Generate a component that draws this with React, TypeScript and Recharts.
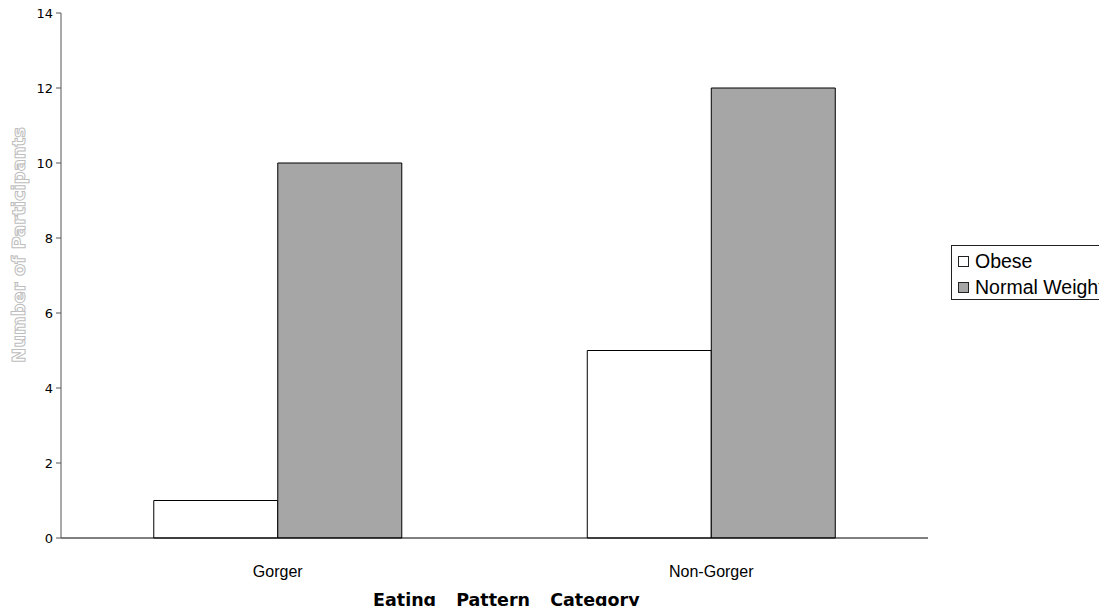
import React from 'react';
import { BarChart, Bar, XAxis, YAxis } from 'recharts';

const categories = ['Gorger', 'Non-Gorger'];
const obese = [1, 5];
const normalWeight = [10, 12];
const yTicks = [0, 2, 4, 6, 8, 10, 12, 14];
const edgeTicks = [0, 1, 2];

const data = categories.map((name, i) => ({
  name,
  obese: obese[i],
  normal: normalWeight[i],
}));

const legendItems = [
  { label: 'Obese', color: '#ffffff' },
  { label: 'Normal Weight', color: '#a6a6a6' },
];

// legend box sits to the right of the plot and runs off the page edge
const LegendBox = () => (
  <div
    style={{
      position: 'absolute',
      left: 951,
      top: 245,
      width: 200,
      height: 55,
      border: '1px solid #222',
      padding: '2px 0 0 6px',
      fontFamily: '"Liberation Sans", Arial, sans-serif',
      fontSize: 19.5,
      lineHeight: '26px',
      color: '#000',
      background: '#fff',
      whiteSpace: 'nowrap',
      boxSizing: 'border-box',
    }}
  >
    {legendItems.map((it) => (
      <div key={it.label} style={{ display: 'flex', alignItems: 'center' }}>
        <span
          style={{
            display: 'inline-block',
            width: 9,
            height: 9,
            border: '1px solid #222',
            background: it.color,
            marginRight: 6,
          }}
        />
        {it.label}
      </div>
    ))}
  </div>
);

const YTitle = () => (
  <text
    x={0}
    y={0}
    transform="translate(25, 245) rotate(-90)"
    textAnchor="middle"
    fontFamily='"DejaVu Sans", Verdana, sans-serif'
    fontWeight="bold"
    fontSize={18}
    fill="#ffffff"
    stroke="#bdbdbd"
    strokeWidth={1}
  >
    Number of Participants
  </text>
);

const App: React.FC = () => {
  return (
    <div style={{ position: 'relative', margin: -8, width: 1107, height: 614, background: '#fff', overflow: 'hidden' }}>
      <BarChart
        width={1107}
        height={614}
        data={data}
        margin={{ top: 13, right: 179, bottom: 46, left: 0 }}
        barCategoryGap="21.4%"
        barGap={0}
      >
        <XAxis
          xAxisId="edges"
          type="number"
          domain={[0, 2]}
          ticks={edgeTicks}
          height={0}
          axisLine={false}
          tickLine={{ stroke: '#333' }}
          tickSize={5}
          tick={{ fontSize: 0 }}
          tickFormatter={() => ''}
        />
        <XAxis
          xAxisId="cat"
          dataKey="name"
          height={30}
          axisLine={{ stroke: '#000' }}
          tickLine={false}
          tickMargin={22}
          tick={{ fill: '#000', fontSize: 16, fontFamily: '"Liberation Sans", Arial, sans-serif' }}
        />
        <XAxis xAxisId="top" orientation="top" height={0} tick={false} tickLine={false} axisLine={{ stroke: '#a0a0a0' }} />
        <YAxis
          yAxisId="left"
          width={61}
          domain={[0, 14]}
          ticks={yTicks}
          interval={0}
          axisLine={{ stroke: '#555' }}
          tickLine={{ stroke: '#555' }}
          tickSize={5}
          tickMargin={3}
          tick={{ fill: '#000', fontSize: 13, fontFamily: '"DejaVu Sans", Verdana, sans-serif' }}
          label={{ content: () => <YTitle /> }}
        />
        <YAxis yAxisId="right" orientation="right" width={0} tick={false} tickLine={false} axisLine={{ stroke: '#a0a0a0' }} />
        <Bar xAxisId="cat" yAxisId="left" dataKey="obese" name="Obese" fill="#ffffff" stroke="#000" strokeWidth={1} isAnimationActive={false} />
        <Bar xAxisId="cat" yAxisId="left" dataKey="normal" name="Normal Weight" fill="#a6a6a6" stroke="#000" strokeWidth={1} isAnimationActive={false} />
      </BarChart>
      <LegendBox />
      <div
        style={{
          position: 'absolute',
          left: 373,
          top: 590,
          whiteSpace: 'nowrap',
          fontFamily: '"DejaVu Sans", Verdana, sans-serif',
          fontWeight: 'bold',
          fontSize: 17.5,
          lineHeight: '20px',
          wordSpacing: 14,
          color: '#000',
        }}
      >
        Eating Pattern Category
      </div>
    </div>
  );
};

export default App;
